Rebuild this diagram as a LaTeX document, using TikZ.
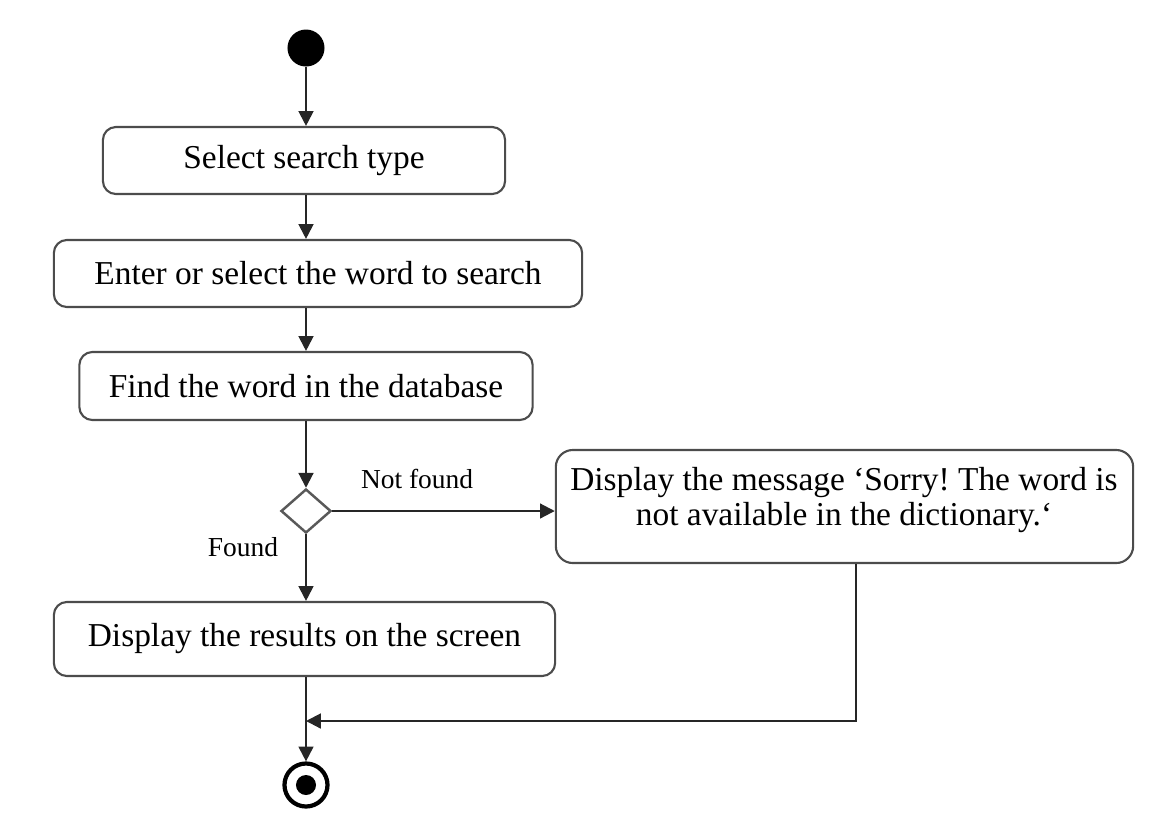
\documentclass[tikz,border=0pt]{standalone}
\usepackage{fontspec}
\setmainfont{Liberation Serif}
\usetikzlibrary{shapes.geometric,arrows.meta,calc}
\frenchspacing

\tikzset{
  actbox/.style={draw=black!70, line width=0.6pt, rounded corners=0.13cm,
    fill=white, inner sep=0pt, align=center, font=\fontsize{9.5}{10}\selectfont},
  decision/.style={diamond, draw=black!65, line width=0.7pt, inner sep=0pt,
    minimum width=0.5cm, minimum height=0.44cm},
  flow/.style={draw=black!85, line width=0.6pt},
  arr/.style={flow, -{Triangle[length=4.2pt,width=4.2pt]}},
  guard/.style={font=\fontsize{7.8}{9}\selectfont, inner sep=0pt},
  initial/.style={circle, fill=black, inner sep=0pt, minimum size=0.37cm},
}

\begin{document}
\begin{tikzpicture}[x=0.01cm, y=-0.01cm]
  \useasboundingbox (0,0) rectangle (1162,820);

  % start and activities
  \node[initial] (start) at (306,48) {};
  \node[actbox, minimum width=4.02cm, minimum height=0.67cm] (select) at (304,160.5) {Select search type};
  \node[actbox, minimum width=5.28cm, minimum height=0.67cm] (enter) at (318,273.5) {Enter or select the word to search};
  \node[actbox, minimum width=4.53cm, minimum height=0.68cm] (find) at (306,386) {Find the word in the database};
  \node[decision] (dec) at (306,511) {};
  \node[actbox, minimum width=5.01cm, minimum height=0.74cm] (show) at (304.5,639) {Display the results on the screen};
  \node[actbox, rounded corners=0.17cm, minimum width=5.77cm, minimum height=1.13cm] (msg) at (844.5,506.5) {};
  \node[font=\fontsize{9.5}{10.1}\selectfont, align=center, inner sep=0pt] (msgtext) at (844,500)
    {Display the message ‘Sorry! The word is\\not available in the dictionary.‘};

  % final node
  \node[circle, draw=black, line width=1.2pt, minimum size=0.43cm, inner sep=0pt] (final) at (306,785) {};
  \node[circle, fill=black, minimum size=0.2cm, inner sep=0pt] (finaldot) at (final.center) {};

  % merge point
  \coordinate (merge) at (306,721);
  \coordinate (corner) at (856,721);

  % guards
  \node[guard] (lnf) at (417,479) {Not found};
  \node[guard] (lf) at (243,547) {Found};

  % control flow
  \draw[arr] (start) -- (start |- select.north);
  \draw[arr] (select.south -| start) -- (enter.north -| start);
  \draw[arr] (enter.south -| start) -- (find.north -| start);
  \draw[arr] (find.south -| start) -- (dec.north);
  \draw[arr] (dec.east) -- (dec.east -| msg.west);
  \draw[arr] (dec.south) -- (show.north -| start);
  \draw[arr] (show.south -| start) -- (final.north);
  \draw[arr] (msg.south -| corner) -- (corner) -- (merge);
\end{tikzpicture}
\end{document}
